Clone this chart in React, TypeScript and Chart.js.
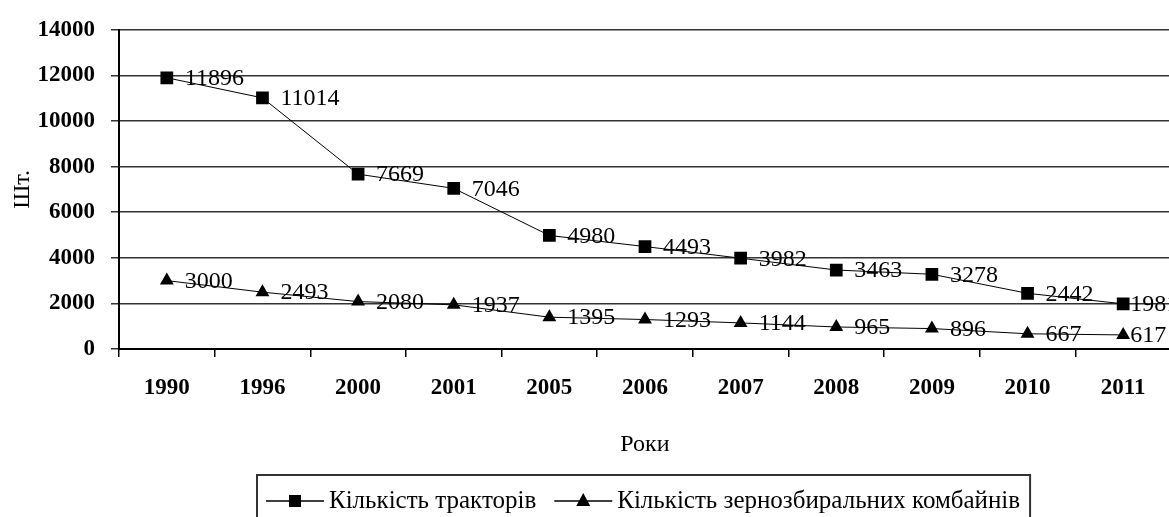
import React, { useEffect, useRef } from "react";
import { Chart, registerables } from "chart.js";

Chart.register(...registerables);

const years = ["1990", "1996", "2000", "2001", "2005", "2006", "2007", "2008", "2009", "2010", "2011"];
const tractors = [11896, 11014, 7669, 7046, 4980, 4493, 3982, 3463, 3278, 2442, 1981];
const combines = [3000, 2493, 2080, 1937, 1395, 1293, 1144, 965, 896, 667, 617];
const seriesNames = ["Кількість тракторів", "Кількість зернозбиральних комбайнів"];
const yTitle = "Шт.";
const xTitle = "Роки";

const FONT = "'Liberation Serif', 'Times New Roman', serif";

const dataLabels = {
  id: "dataLabels",
  afterDatasetsDraw(chart: any) {
    const ctx = chart.ctx;
    ctx.save();
    ctx.font = `24px ${FONT}`;
    ctx.fillStyle = "#000";
    ctx.textBaseline = "middle";
    ctx.textAlign = "left";
    chart.data.datasets.forEach((ds: any, di: number) => {
      const meta = chart.getDatasetMeta(di);
      meta.data.forEach((pt: any, i: number) => {
        const off = i === meta.data.length - 1 ? 7 : 18;
        ctx.fillText(String(ds.data[i]), pt.x + off, pt.y + 1);
      });
    });
    ctx.restore();
  },
};

const boxLegend = {
  id: "boxLegend",
  afterDraw(chart: any) {
    const ctx = chart.ctx;
    ctx.save();
    ctx.font = `25px ${FONT}`;
    const left = 257;
    const top = 475;
    const cy = 501;
    const lineLen = 58;
    let x = left + 9;
    const items = chart.data.datasets.map((ds: any) => ({
      text: ds.label,
      style: ds.pointStyle,
    }));
    const positions: number[] = [];
    items.forEach((it: any) => {
      positions.push(x);
      x += lineLen + 5 + ctx.measureText(it.text).width + 18;
    });
    const right = x - 18 + 10;
    ctx.strokeStyle = "#333";
    ctx.lineWidth = 2;
    ctx.strokeRect(left, top, right - left, 80);
    items.forEach((it: any, i: number) => {
      const sx = positions[i];
      ctx.strokeStyle = "#000";
      ctx.lineWidth = 1.5;
      ctx.beginPath();
      ctx.moveTo(sx, cy);
      ctx.lineTo(sx + lineLen, cy);
      ctx.stroke();
      ctx.fillStyle = "#000";
      const mx = sx + lineLen / 2;
      if (it.style === "rect") {
        ctx.fillRect(mx - 6, cy - 6, 12, 12);
      } else {
        ctx.beginPath();
        ctx.moveTo(mx, cy - 8);
        ctx.lineTo(mx + 7, cy + 5);
        ctx.lineTo(mx - 7, cy + 5);
        ctx.closePath();
        ctx.fill();
      }
      ctx.textBaseline = "middle";
      ctx.textAlign = "left";
      ctx.fillText(it.text, sx + lineLen + 5, cy);
    });
    ctx.restore();
  },
};

export default function App() {
  const ref = useRef<HTMLCanvasElement | null>(null);
  useEffect(() => {
    if (!ref.current) return;
    const chart = new Chart(ref.current, {
      type: "line",
      data: {
        labels: years,
        datasets: [
          {
            label: seriesNames[0],
            data: tractors,
            borderColor: "#000",
            backgroundColor: "#000",
            borderWidth: 1,
            pointStyle: "rect",
            pointRadius: 9,
            pointBorderWidth: 0,
            tension: 0,
          },
          {
            label: seriesNames[1],
            data: combines,
            borderColor: "#000",
            backgroundColor: "#000",
            borderWidth: 1,
            pointStyle: "triangle",
            pointRadius: 8,
            pointBorderWidth: 0,
            tension: 0,
          },
        ],
      },
      options: {
        animation: false,
        responsive: false,
        layout: { padding: { left: 0, top: 27, right: 5, bottom: 58 } },
        plugins: { legend: { display: false }, tooltip: { enabled: false } },
        scales: {
          x: {
            offset: true,
            grid: { display: true, drawOnChartArea: false, drawTicks: true, offset: true, tickLength: 8, color: "#000", lineWidth: 1.5 },
            border: { display: true, color: "#000", width: 2 },
            ticks: { color: "#000", padding: 17, font: { family: FONT, size: 23, weight: "bold" }, maxRotation: 0 },
            title: { display: true, text: xTitle, color: "#000", padding: { top: 3, bottom: 0 }, font: { family: FONT, size: 24 } },
            afterFit(scale: any) { scale.height = 110; },
          },
          y: {
            min: 0,
            max: 14000,
            ticks: {
              stepSize: 2000,
              color: "#000",
              padding: 16,
              font: { family: FONT, size: 23, weight: "bold" },
              callback: (v: any) => String(v),
            },
            grid: { color: "#333", lineWidth: 1.5, tickLength: 8 },
            border: { display: true, color: "#000", width: 2 },
            title: { display: true, text: yTitle, color: "#000", padding: { top: 8, bottom: 0 }, font: { family: FONT, size: 24 } },
            afterFit(scale: any) { scale.width = 119; },
          },
        },
      },
      plugins: [dataLabels, boxLegend],
    } as any);
    return () => chart.destroy();
  }, []);
  return (
    <div style={{ position: "fixed", left: 0, top: 0, width: 1180, height: 517, background: "#fff" }}>
      <canvas ref={ref} width={1180} height={517} style={{ width: 1180, height: 517, display: "block" }} />
    </div>
  );
}
